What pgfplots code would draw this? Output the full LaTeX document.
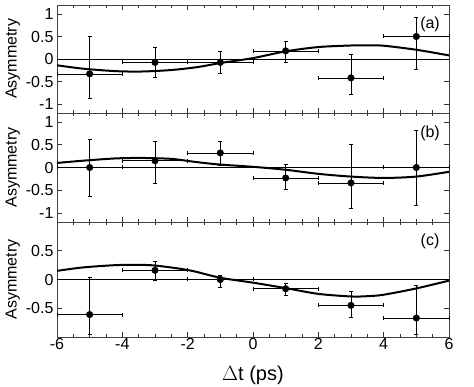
\documentclass[border=0pt]{standalone}
\usepackage{pgfplots}
\pgfplotsset{compat=1.18}
\usepackage{fontspec}
\setmainfont{Liberation Sans}

\pgfplotsset{
  panel/.style={
    scale only axis, width=392pt,
    xmin=-6, xmax=6,
    xtick={-6,-4,...,6}, minor x tick num=3,
    xtick pos=both, ytick pos=both, tick align=inside,
    major tick length=5pt, minor tick length=3pt,
    axis line style={black!75, line width=0.9pt},
    every tick/.style={black!80, line width=0.7pt},
    /pgf/number format/assume math mode=true,
    ticklabel style={font=\fontsize{16}{19}\selectfont},
    ylabel={Asymmetry},
    ylabel style={font=\fontsize{16}{19}\selectfont, at={(axis description cs:-0.1033,0.5)}, anchor=base},
    clip=false,
  },
  dat/.style={black, only marks, mark=*, mark size=3.3pt,
    error bars/.cd, x dir=both, x explicit, y dir=both, y explicit,
    error bar style={black, line width=0.6pt},
    error mark options={rotate=90, mark size=2pt, line width=0.6pt}},
  fit/.style={black, line width=2pt, smooth, no marks},
  zero/.style={black, line width=0.6pt, no marks},
}

\begin{document}
\begin{tikzpicture}
\useasboundingbox (-57pt,-50pt) rectangle (417pt,337pt);

% panel (a)
\begin{axis}[panel, at={(0,224pt)}, anchor=south west, height=108pt,
  ymin=-1.2, ymax=1.2, ytick={-1,-0.5,0,0.5,1}, xticklabels={}]
\addplot[zero] coordinates {(-6,0) (6,0)};
\addplot[fit] coordinates {
  (-6,-0.14) (-5.2,-0.215) (-4.2,-0.27) (-3.4,-0.278) (-2.5,-0.245)
  (-1.7,-0.18) (-1,-0.09) (0,0.02) (1,0.17) (2,0.265) (3,0.30)
  (3.5,0.305) (4,0.295) (5,0.205) (6,0.08)};
\addplot[dat] coordinates {
  (-5,-0.33) += (1,0.83) -= (1,0.55)
  (-3,-0.075) += (1,0.345) -= (1,0.325)
  (-1,-0.075) += (1,0.245) -= (1,0.235)
  (1,0.18) += (1,0.22) -= (1,0.255)
  (3,-0.42) += (1,0.515) -= (1,0.37)
  (5,0.50) += (1,0.43) -= (1,0.74)};
\node[font=\fontsize{16}{19}\selectfont] at (axis cs:5.42,0.76) {(a)};
\end{axis}

% panel (b)
\begin{axis}[panel, at={(0,115pt)}, anchor=south west, height=109pt,
  ymin=-1.2, ymax=1.2, ytick={-1,-0.5,0,0.5,1}, xticklabels={}]
\addplot[zero] coordinates {(-6,0) (6,0)};
\addplot[fit] coordinates {
  (-6,0.10) (-5.2,0.15) (-4.2,0.20) (-3.4,0.21) (-2.5,0.19)
  (-1.9,0.135) (-1.1,0.07) (0,0.015) (1,-0.05) (2,-0.14) (3,-0.20)
  (4,-0.23) (5,-0.20) (6,-0.095)};
\addplot[dat] coordinates {
  (-5,0) += (1,0.63) -= (1,0.63)
  (-3,0.15) += (1,0.43) -= (1,0.50)
  (-1,0.32) += (1,0.25) -= (1,0.27)
  (1,-0.23) += (1,0.305) -= (1,0.25)
  (3,-0.34) += (1,0.84) -= (1,0.55)
  (5,0.0) += (1,0.82) -= (1,0.83)};
\node[font=\fontsize{16}{19}\selectfont] at (axis cs:5.42,0.75) {(b)};
\end{axis}

% panel (c)
\begin{axis}[panel, at={(0,0)}, anchor=south west, height=115pt,
  ymin=-1, ymax=1, ytick={-0.5,0,0.5},
  xticklabel style={yshift=2pt},
  xlabel={$\Delta$t (ps)},
  xlabel style={font=\fontsize{20}{24}\selectfont, at={(axis description cs:0.5,-0.3826)}, anchor=base}]
\addplot[zero] coordinates {(-6,0) (6,0)};
\addplot[fit] coordinates {
  (-6,0.15) (-5.2,0.21) (-4.2,0.25) (-3.55,0.255) (-2.95,0.24)
  (-1.95,0.16) (-1,0.03) (0,-0.055) (1,-0.15) (2,-0.25) (3,-0.295)
  (3.5,-0.29) (4,-0.265) (5,-0.155) (6,-0.02)};
\addplot[dat] coordinates {
  (-5,-0.61) += (1,0.65) -= (1,0.34)
  (-3,0.16) += (1,0.16) -= (1,0.18)
  (-1,0.0) += (1,0.075) -= (1,0.13)
  (1,-0.16) += (1,0.10) -= (1,0.11)
  (3,-0.45) += (1,0.24) -= (1,0.20)
  (5,-0.67) += (1,0.57) -= (1,0.29)};
\node[font=\fontsize{16}{19}\selectfont] at (axis cs:5.42,0.66) {(c)};
\end{axis}
\end{tikzpicture}
\end{document}
